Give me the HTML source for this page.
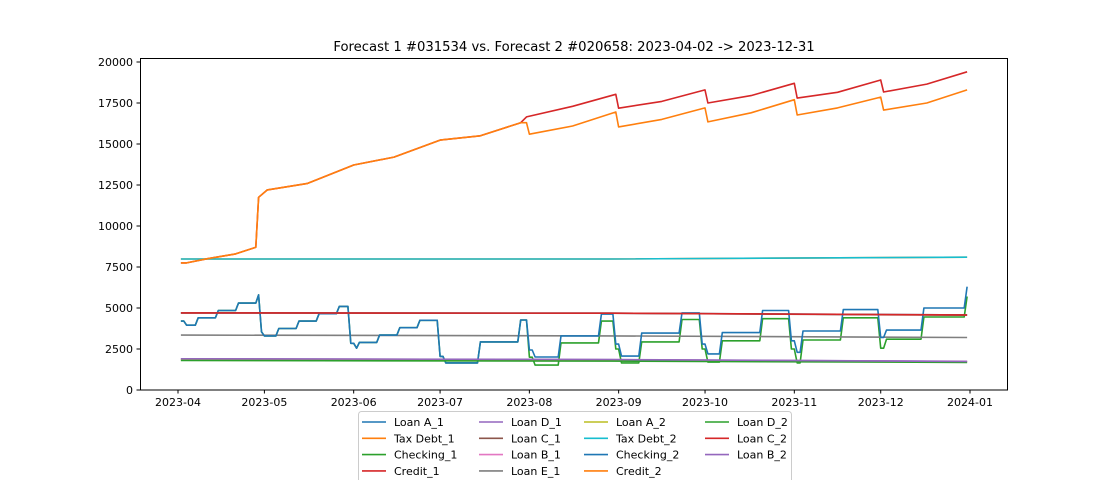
<!DOCTYPE html>
<html><head><meta charset="utf-8"><style>
html,body{margin:0;padding:0;background:#fff;}
svg{display:block;font-family:"DejaVu Sans","Liberation Sans",sans-serif;}
</style></head><body>
<svg id="chart" width="1120" height="480" viewBox="0 0 1120 480">
<rect width="1120" height="480" fill="#fff"/>
<text x="574" y="51" font-size="13.2" text-anchor="middle">Forecast 1 #031534 vs. Forecast 2 #020658: 2023-04-02 -&gt; 2023-12-31</text>
<g id="marks"></g>
<g id="axes"></g>
<g id="legend"></g>
</svg>
<script>
// x data: days since 2023-04-01
const xTickLabels = ["2023-04","2023-05","2023-06","2023-07","2023-08","2023-09","2023-10","2023-11","2023-12","2024-01"];
const xTickDays = [0,30,61,91,122,153,183,214,244,275];
const yTicks = [0,2500,5000,7500,10000,12500,15000,17500,20000];

const checking2Days = [1,3,7,14,21,28,29,30,35,42,49,56,60,62,63,70,77,84,91,93,105,119,122,124,133,147,152,154,161,175,182,184,189,203,213,215,217,231,244,246,259,274];
const checking2Vals = [4200,3950,4400,4850,5300,5800,3550,3300,3750,4200,4650,5100,2850,2550,2900,3350,3800,4250,2050,1650,2930,4270,2440,2010,3300,4630,2800,2070,3470,4700,2800,2200,3500,4850,3000,2300,3600,4900,3200,3650,5000,6300];
const checking1Days = [1,3,7,14,21,28,29,30,35,42,49,56,60,62,63,70,77,84,91,93,105,119,122,124,133,147,152,154,161,175,182,184,189,203,213,215,217,231,244,246,259,274];
const checking1Vals = [4200,3950,4400,4850,5300,5800,3550,3300,3750,4200,4650,5100,2850,2550,2900,3350,3800,4250,2050,1650,2930,4270,2000,1520,2870,4200,2500,1650,2930,4300,2500,1700,3000,4350,2500,1650,3050,4400,2550,3100,4450,5700];

const credit1Days = [1,3,10,20,27,28,31,45,61,75,91,105,119,121,137,152,153,168,183,184,199,214,215,229,244,245,260,274];
const credit1Vals = [7750,7750,8000,8300,8700,11750,12200,12600,13720,14200,15240,15500,16300,16650,17300,18030,17180,17600,18300,17500,17950,18700,17800,18150,18900,18170,18650,19400];
const credit2Days = [1,3,10,20,27,28,31,45,61,75,91,105,119,121,122,137,152,153,168,183,184,199,214,215,229,244,245,260,274];
const credit2Vals = [7750,7750,8000,8300,8700,11750,12200,12600,13720,14200,15240,15500,16300,16300,15600,16100,16950,16040,16500,17200,16350,16900,17700,16770,17200,17860,17070,17500,18300];
const flatDays = [1,150,274];
const taxDebt1Vals = [7990,7990,8100];
const taxDebt2Vals = [7990,7990,8100];
const loanC1Vals = [4700,4680,4560];
const loanC2Vals = [4700,4680,4580];
const loanA1Vals = [4700,4680,4580];
const loanE1Vals = [3350,3300,3200];
const loanD1Vals = [1900,1850,1750];
const loanB1Vals = [1880,1840,1740];
const loanA2Vals = [1820,1790,1700];
const loanD2Vals = [1800,1760,1680];
const loanB2Vals = [1900,1860,1740];

const X0=178, PXD=792/275, Y0=390, PXV=328/20000;
const xs=d=>X0+d*PXD, ys=v=>Y0-v*PXV;
const NS="http://www.w3.org/2000/svg";
const marks=document.getElementById('marks'), axes=document.getElementById('axes'), legend=document.getElementById('legend');

function stepPts(days,vals){const p=[];let j=0;for(let d=days[0];d<=days[days.length-1];d++){while(j+1<days.length&&days[j+1]<=d)j++;p.push([d,vals[j]]);}return p;}
function linPts(days,vals){return days.map((d,i)=>[d,vals[i]]);}
function line(pts,color,name){
  const pl=document.createElementNS(NS,'polyline');
  pl.setAttribute('points',pts.map(p=>xs(p[0]).toFixed(1)+','+ys(p[1]).toFixed(1)).join(' '));
  pl.setAttribute('fill','none');pl.setAttribute('stroke',color);pl.setAttribute('stroke-width','1.6');pl.setAttribute('stroke-linejoin','round');
  
  
  marks.appendChild(pl);
}
const C=['#1f77b4','#ff7f0e','#2ca02c','#d62728','#9467bd','#8c564b','#e377c2','#7f7f7f','#bcbd22','#17becf'];
line(linPts(flatDays,loanA1Vals),C[0],'loan-a-1-line');
line(linPts(flatDays,taxDebt1Vals),C[1],'tax-debt-1-line');
line(stepPts(checking1Days,checking1Vals),C[2],'checking-1-line');
line(linPts(credit1Days,credit1Vals),C[3],'credit-1-line');
line(linPts(flatDays,loanD1Vals),C[4],'loan-d-1-line');
line(linPts(flatDays,loanC1Vals),C[5],'loan-c-1-line');
line(linPts(flatDays,loanB1Vals),C[6],'loan-b-1-line');
line(linPts(flatDays,loanE1Vals),C[7],'loan-e-1-line');
line(linPts(flatDays,loanA2Vals),C[8],'loan-a-2-line');
line(linPts(flatDays,taxDebt2Vals),C[9],'tax-debt-2-line');
line(stepPts(checking2Days,checking2Vals),C[0],'checking-2-line');
line(linPts(credit2Days,credit2Vals),C[1],'credit-2-line');
line(linPts(flatDays,loanD2Vals),C[2],'loan-d-2-line');
line(linPts(flatDays,loanC2Vals),C[3],'loan-c-2-line');
line(linPts(flatDays,loanB2Vals),C[4],'loan-b-2-line');

function el(tag,attrs,parent,text){const e=document.createElementNS(NS,tag);for(const k in attrs)e.setAttribute(k,attrs[k]);if(text!=null)e.textContent=text;parent.appendChild(e);return e;}
const frame=el('rect',{x:140.5,y:58.5,width:867,height:331.5,fill:'none',stroke:'#000','stroke-width':1},axes);


xTickDays.forEach((d,i)=>{
  const t=el('line',{x1:xs(d),x2:xs(d),y1:390,y2:393.5,stroke:'#000'},axes);
  
  
  const l=el('text',{x:xs(d),y:406,'font-size':11,'text-anchor':'middle'},axes,xTickLabels[i]);
  
  
});
yTicks.forEach(v=>{
  const t=el('line',{x1:136.5,x2:140.5,y1:ys(v),y2:ys(v),stroke:'#000'},axes);
  
  
  const l=el('text',{x:133,y:ys(v)+4,'font-size':11,'text-anchor':'end'},axes,String(v));
  
  
});
const names=['Loan A_1','Tax Debt_1','Checking_1','Credit_1','Loan D_1','Loan C_1','Loan B_1','Loan E_1','Loan A_2','Tax Debt_2','Checking_2','Credit_2','Loan D_2','Loan C_2','Loan B_2'];
const box=el('rect',{x:358.5,y:411.5,width:433,height:80,rx:3,fill:'#fff',stroke:'#ccc'},legend);


const colX=[362,479,584,705];
names.forEach((n,i)=>{
  const c=Math.floor(i/4), r=i%4, y=422+r*16.3;
  const g=el('g',{},legend);
  
  
  el('line',{x1:colX[c],x2:colX[c]+24,y1:y,y2:y,stroke:C[i%10],'stroke-width':1.6},g);
  el('text',{x:colX[c]+32,y:y+4,'font-size':11},g,n);
});
</script>
</body></html>
